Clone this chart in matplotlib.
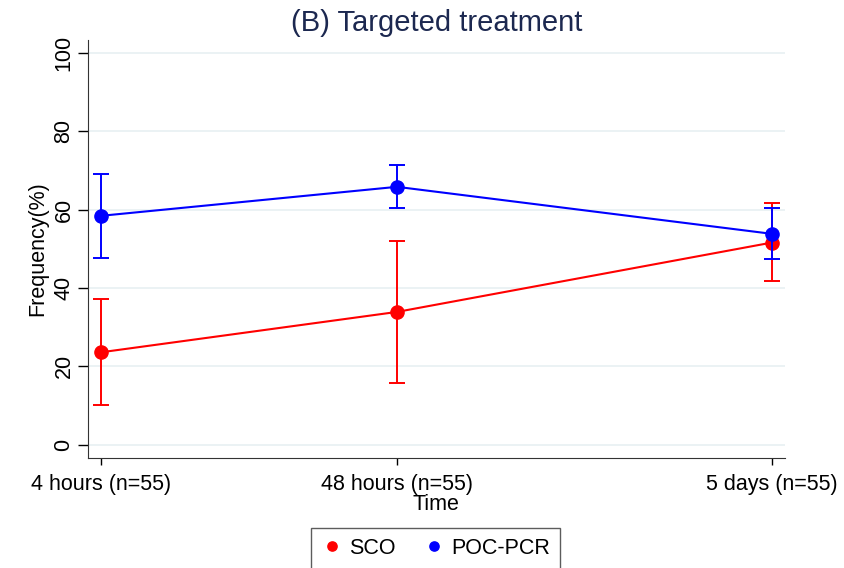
import numpy as np
import matplotlib.pyplot as plt

plt.rcParams['font.family'] = ['Liberation Sans', 'DejaVu Sans']

time_labels = ['4 hours (n=55)', '48 hours (n=55)', '5 days (n=55)']
x_pos = [1, 2, 3.267]

sco = [23.6, 33.9, 51.6]
sco_lo = [10.2, 15.8, 41.8]
sco_hi = [37.2, 52.1, 61.6]

poc = [58.4, 65.8, 53.8]
poc_lo = [47.7, 60.5, 47.4]
poc_hi = [69.1, 71.3, 60.5]

fig = plt.figure(figsize=(8.44, 5.68), dpi=100)
ax = fig.add_axes([0.104, 0.194, 0.826, 0.736])

for vals, lo, hi, col, lab in [(sco, sco_lo, sco_hi, 'red', 'SCO'),
                                (poc, poc_lo, poc_hi, 'blue', 'POC-PCR')]:
    vals = np.array(vals)
    err = [vals - np.array(lo), np.array(hi) - vals]
    ax.errorbar(x_pos, vals, yerr=err, color=col, ecolor=col, lw=1.4,
                elinewidth=1.4, capsize=6, capthick=1.4, fmt='none')
    ax.plot(x_pos, vals, '-', color=col, lw=1.5)
    ax.plot(x_pos, vals, 'o', color=col, ms=9.5, label=lab, linestyle='none')

ax.set_xlim(0.956, 3.31)
ax.set_ylim(-3.3, 103.3)
ax.set_yticks([0, 20, 40, 60, 80, 100])
ax.set_xticks(x_pos)
ax.set_xticklabels(time_labels, fontsize=15.5)
ax.tick_params(axis='y', labelrotation=90, labelsize=15.5, length=7, width=1, pad=2.5)
ax.tick_params(axis='x', length=5, width=1, pad=7)
for t in ax.get_yticklabels():
    t.set_va('center')
ax.grid(axis='y', color='#e8f0f2', lw=1.2)
ax.set_axisbelow(True)
for s in ['top', 'right']:
    ax.spines[s].set_visible(False)
for s in ['left', 'bottom']:
    ax.spines[s].set_color('#333333')

ax.set_xlabel('Time', fontsize=15.5, labelpad=-1)
ax.set_ylabel('Frequency(%)', fontsize=15.5, labelpad=4)
ax.set_title('(B) Targeted treatment', fontsize=21, color='#1c2850', pad=6)

fig.legend(loc='lower center', bbox_to_anchor=(0.516, -0.02), ncol=2, fontsize=15.5,
           frameon=True, fancybox=False, edgecolor='#333333', handletextpad=0.3,
           markerscale=0.7, columnspacing=1.3, borderpad=0.45, handlelength=1.0)

fig.savefig('out.png', dpi=100)
